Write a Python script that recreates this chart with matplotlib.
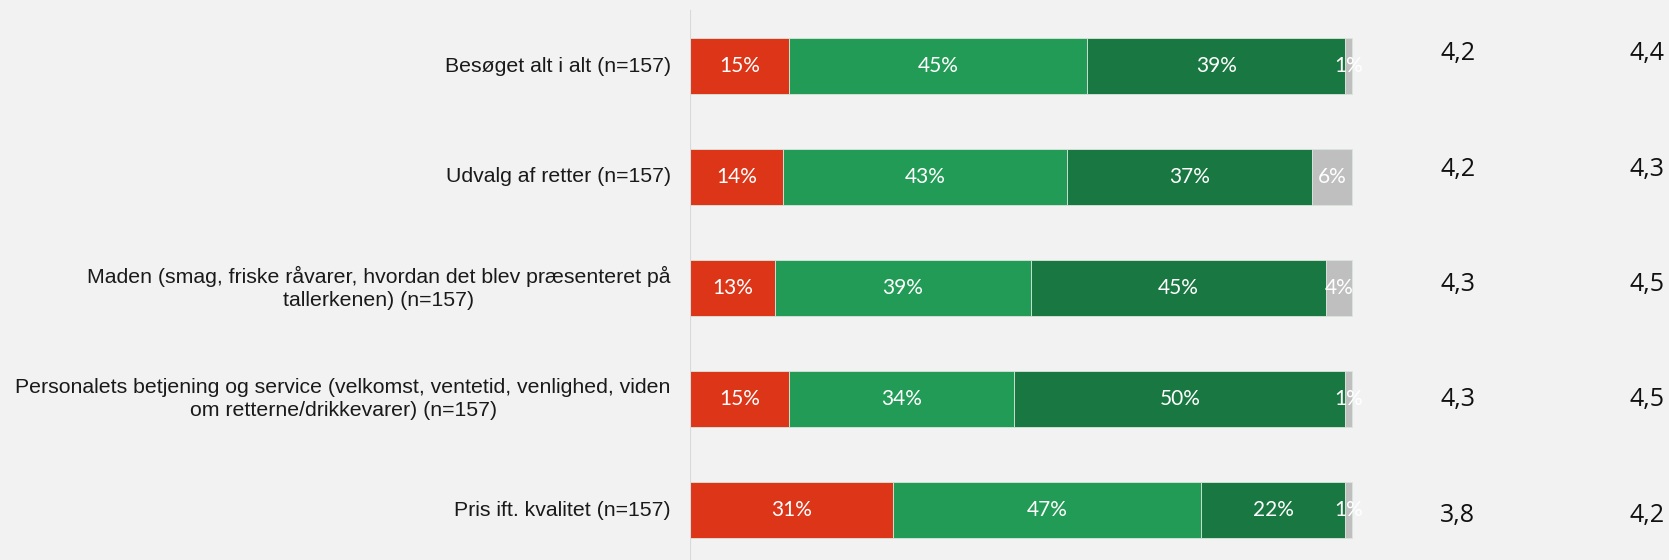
import matplotlib.pyplot as plt
import numpy as np

# data
categories = [
    "Besøget alt i alt (n=157)",
    "Udvalg af retter (n=157)",
    "Maden (smag, friske råvarer, hvordan det blev præsenteret på\ntallerkenen) (n=157)",
    "Personalets betjening og service (velkomst, ventetid, venlighed, viden\nom retterne/drikkevarer) (n=157)",
    "Pris ift. kvalitet (n=157)",
]
red_vals = [15, 14, 13, 15, 31]
green_vals = [45, 43, 39, 34, 47]
dark_vals = [39, 37, 45, 50, 22]
grey_vals = [1, 6, 4, 1, 1]
score_a = ["4,2", "4,2", "4,3", "4,3", "3,8"]
score_b = ["4,4", "4,3", "4,5", "4,5", "4,2"]

colors = ["#DC3518", "#219B55", "#197841", "#BFBFBF"]
bg = "#F2F2F2"


def main():
    fig = plt.figure(figsize=(16.69, 5.6), dpi=100, facecolor=bg)
    ax = fig.add_axes([690 / 1669, 0, 1 - 690 / 1669, 1])
    ax.set_facecolor(bg)

    y = np.arange(len(categories))
    series = [np.array(s, dtype=float) for s in (red_vals, green_vals, dark_vals, grey_vals)]
    # rounded shares -> bars are drawn as shares of the row total
    totals = sum(series)
    left = np.zeros(len(categories))
    for vals, col in zip(series, colors):
        widths = vals / totals * 100
        ax.barh(y, widths, left=left, height=0.5, color=col,
                edgecolor="#d9e6dc", linewidth=0.6)
        for yi, l, w, v in zip(y, left, widths, vals):
            ax.text(l + w / 2, yi, f"{int(v)}%", ha="center", va="center",
                    color="white", fontsize=15, family="Lato")
        left += widths

    for yi, cat in zip(y, categories):
        ax.text(-2.9, yi, cat, ha="right", va="center", multialignment="center",
                fontsize=15.3, family="Liberation Sans", color="#1a1a1a",
                linespacing=1.3)

    # score columns sit slightly off the bar centres
    ty = -0.11 + y * 1.039
    for t, a, b in zip(ty, score_a, score_b):
        ax.text(116, t, a, ha="center", va="center", fontsize=18,
                family="Open Sans", color="#111111")
        ax.text(144.6, t, b, ha="center", va="center", fontsize=18,
                family="Open Sans", color="#111111")

    ax.axvline(0, ymin=0, ymax=1 - 11 / 560, color="#d9d9d9", lw=1.5)

    ax.set_xlim(0, (1669 - 690) / 6.62)
    ax.set_ylim(4 + 50 / 111, -66 / 111)
    ax.axis("off")
    fig.savefig("out.png", facecolor=bg)


if __name__ == "__main__":
    main()
